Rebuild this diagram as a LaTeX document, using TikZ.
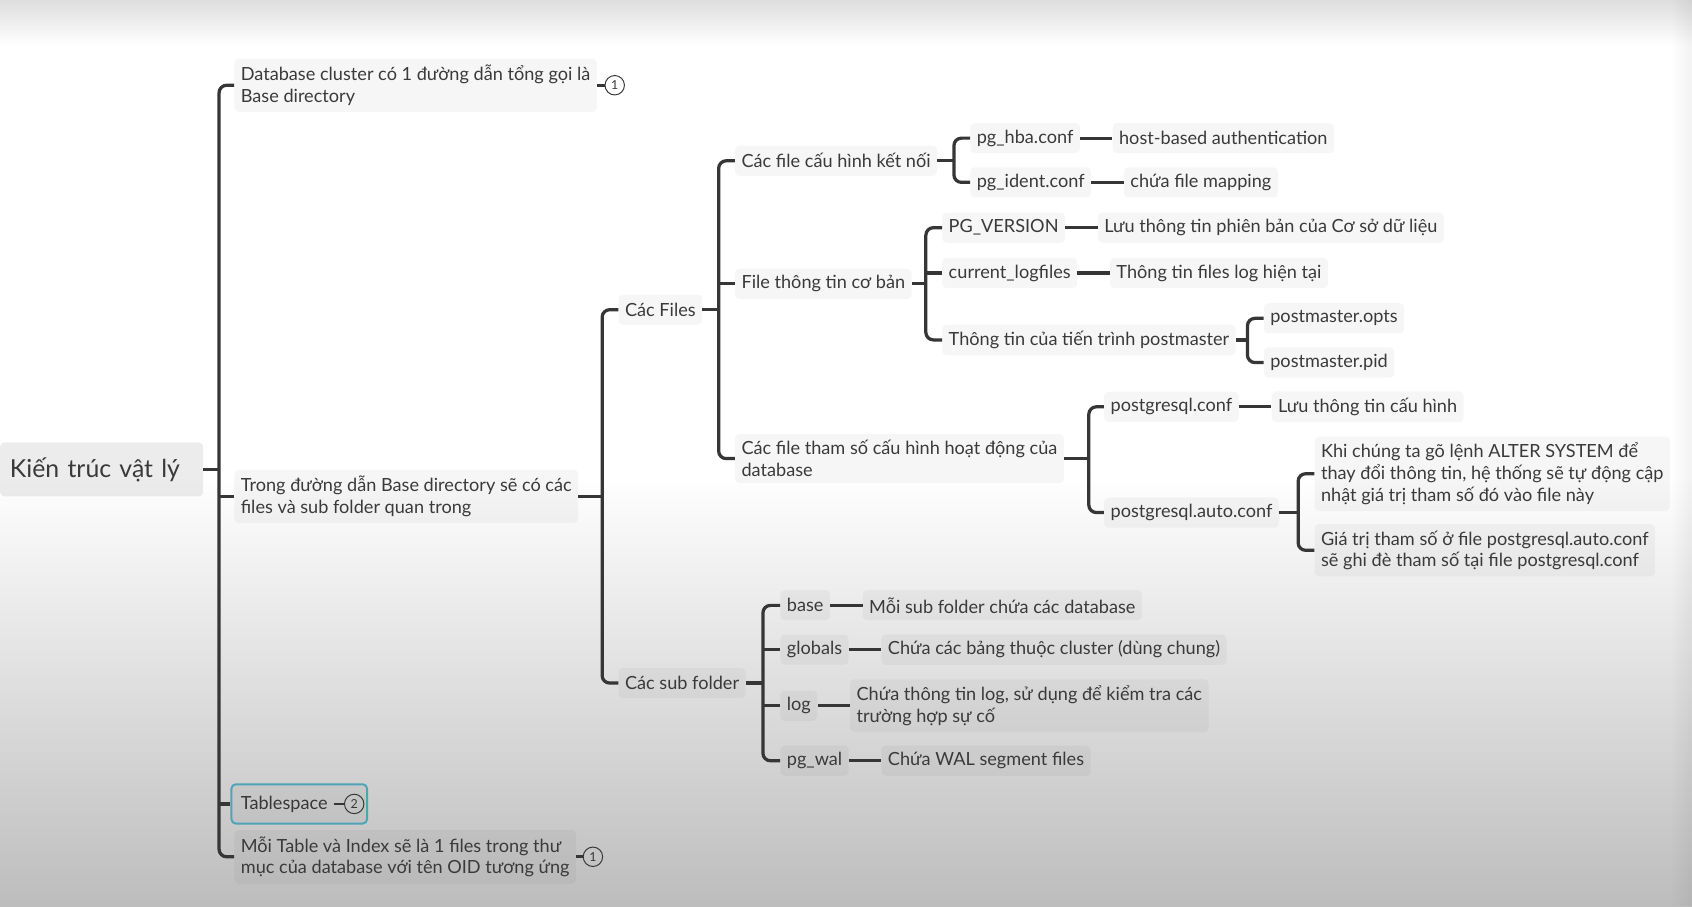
\documentclass[tikz,border=0pt]{standalone}
\usepackage{fontspec}
\setmainfont{Lato}
\usetikzlibrary{positioning,fit,fadings}
\definecolor{lc}{HTML}{363636}
\definecolor{tx}{HTML}{3a3a3a}
\definecolor{tealc}{HTML}{4FA3B8}
\begin{document}
\begin{tikzpicture}[x=1pt,y=-1pt,
  nd/.style={fill=black, fill opacity=0.035, text opacity=1, text=tx, rounded corners=4pt,
    inner xsep=6pt, inner ysep=6pt, minimum height=28pt, anchor=west, align=left,
    font=\fontsize{16.8}{20}\selectfont},
  circ/.style={circle, draw=lc, line width=0.9pt, minimum size=18pt, inner sep=0pt, text=tx,
    font=\fontsize{11.5}{12}\selectfont},
  conn/.style={draw=lc, line width=3pt},
  brk/.style={draw=lc, line width=3pt, rounded corners=7pt},
  lf/.style={nd, right=30pt of #1}]
\useasboundingbox (0,0) rectangle (1568,840);
% background
\shade[top color=black!13, bottom color=white] (0,0) rectangle (1568,42);
\fill[white] (0,42) rectangle (1568,440);
\shade[top color=white, bottom color=black!26] (0,440) rectangle (1568,840);
\fill[black, opacity=0.05, path fading=west] (1548,0) rectangle (1568,840);

% root
\node[nd, fill opacity=0.075, font=\fontsize{23}{28}\selectfont, minimum height=50pt,
  inner xsep=9pt, text width=170pt] (root) at (0,435) {Kiến trúc vật lý};

% level 1
\node[nd] (db) at (217,79) {Database cluster có 1 đường dẫn tổng gọi là\\Base directory};
\node[circ, right=7pt of db] (db1) {1};
\node[nd] (trong) at (217,460) {Trong đường dẫn Base directory sẽ có các\\files và sub folder quan trong};
\node[nd, fill opacity=0] (ts) at (217,745) {Tablespace};
\node[circ, right=9pt of ts] (ts2) {2};
\node[fit=(ts)(ts2), draw=tealc, line width=1.8pt, rounded corners=4pt, inner xsep=2.5pt, inner ysep=4pt,
  fill=black, fill opacity=0.035] (tsbox) {};
\node[nd] (mt) at (217,794) {Mỗi Table và Index sẽ là 1 files trong thư\\mục của database với tên OID tương ứng};
\node[circ, right=6pt of mt] (mt1) {1};

% level 2
\node[nd] (files) at (573,287) {Các Files};
\node[nd] (subf) at (573,633) {Các sub folder};

% level 3 - files
\node[nd] (cfg) at (681,149) {Các file cấu hình kết nối};
\node[nd] (info) at (681,263) {File thông tin cơ bản};
\node[nd] (tham) at (681,425) {Các file tham số cấu hình hoạt động của\\database};

\node[nd] (hba) at (899,128) {pg\_hba.conf};
\node[lf=hba] (hbad) {host-based authentication};
\node[nd] (ident) at (899,169) {pg\_ident.conf};
\node[lf=ident] (identd) {chứa file mapping};

\node[nd] (ver) at (873,211) {PG\_VERSION};
\node[lf=ver] (verd) {Lưu thông tin phiên bản của Cơ sở dữ liệu};
\node[nd] (logf) at (873,253) {current\_logfiles};
\node[lf=logf] (logfd) {Thông tin files log hiện tại};
\node[nd] (pm) at (873,315) {Thông tin của tiến trình postmaster};
\node[nd] (opts) at (1171,295) {postmaster.opts};
\node[nd] (pid) at (1171,336) {postmaster.pid};

\node[nd] (pgc) at (1023,377) {postgresql.conf};
\node[lf=pgc] (pgcd) {Lưu thông tin cấu hình};
\node[nd] (auto) at (1023,475) {postgresql.auto.conf};
\node[nd] (khi) at (1218,439) {Khi chúng ta gõ lệnh ALTER SYSTEM để\\thay đổi thông tin, hệ thống sẽ tự động cập\\nhật giá trị tham số đó vào file này};
\node[nd] (gia) at (1218,510) {Giá trị tham số ở file postgresql.auto.conf\\sẽ ghi đè tham số tại file postgresql.conf};

% level 3 - sub folders
\node[nd] (base) at (723,561) {base};
\node[lf=base] (based) {Mỗi sub folder chứa các database};
\node[nd] (glob) at (723,602) {globals};
\node[lf=glob] (globd) {Chứa các bảng thuộc cluster (dùng chung)};
\node[nd] (log) at (723,654) {log};
\node[lf=log] (logd) {Chứa thông tin log, sử dụng để kiểm tra các\\trường hợp sự cố};
\node[nd] (wal) at (723,705) {pg\_wal};
\node[lf=wal] (wald) {Chứa WAL segment files};

% bracket coordinates
\coordinate (b1) at (203,435);
\coordinate (b2) at (558,460);
\coordinate (b3) at (666,287);
\coordinate (b4) at (707,633);
\coordinate (b5) at (884,149);
\coordinate (b6) at (858,263);
\coordinate (b7) at (1156,315);
\coordinate (b8) at (1009,425);
\coordinate (b9) at (1203,475);

% connectors
\draw[conn] (root.east) -- (b1);
\draw[brk] (db.west) -| (b1) |- (mt.west);
\draw[conn] (trong.west) -- (trong.west -| b1);
\draw[conn] (tsbox.west) -- (tsbox.west -| b1);
\draw[conn, line width=2.5pt] (db.east) -- (db1.west);
\draw[conn, line width=2.5pt] (ts.east) -- (ts2.west);
\draw[conn, line width=2.5pt] (mt.east) -- (mt1.west);

\draw[conn] (trong.east) -- (b2);
\draw[brk] (files.west) -| (b2) |- (subf.west);

\draw[conn] (files.east) -- (b3);
\draw[brk] (cfg.west) -| (b3) |- (tham.west);
\draw[conn] (info.west) -- (info.west -| b3);

\draw[conn] (subf.east) -- (b4);
\draw[brk] (base.west) -| (b4) |- (wal.west);
\draw[conn] (glob.west) -- (glob.west -| b4);
\draw[conn] (log.west) -- (log.west -| b4);

\draw[conn] (cfg.east) -- (b5);
\draw[brk] (hba.west) -| (b5) |- (ident.west);

\draw[conn] (info.east) -- (b6);
\draw[brk] (ver.west) -| (b6) |- (pm.west);
\draw[conn] (logf.west) -- (logf.west -| b6);

\draw[conn] (pm.east) -- (b7);
\draw[brk] (opts.west) -| (b7) |- (pid.west);

\draw[conn] (tham.east) -- (b8);
\draw[brk] (pgc.west) -| (b8) |- (auto.west);

\draw[conn] (auto.east) -- (b9);
\draw[brk] (khi.west) -| (b9) |- (gia.west);

\draw[conn] (hba) -- (hbad);
\draw[conn] (ident) -- (identd);
\draw[conn] (ver) -- (verd);
\draw[conn] (logf) -- (logfd);
\draw[conn] (pgc) -- (pgcd);
\draw[conn] (base) -- (based);
\draw[conn] (glob) -- (globd);
\draw[conn] (log) -- (logd);
\draw[conn] (wal) -- (wald);
\end{tikzpicture}
\end{document}
